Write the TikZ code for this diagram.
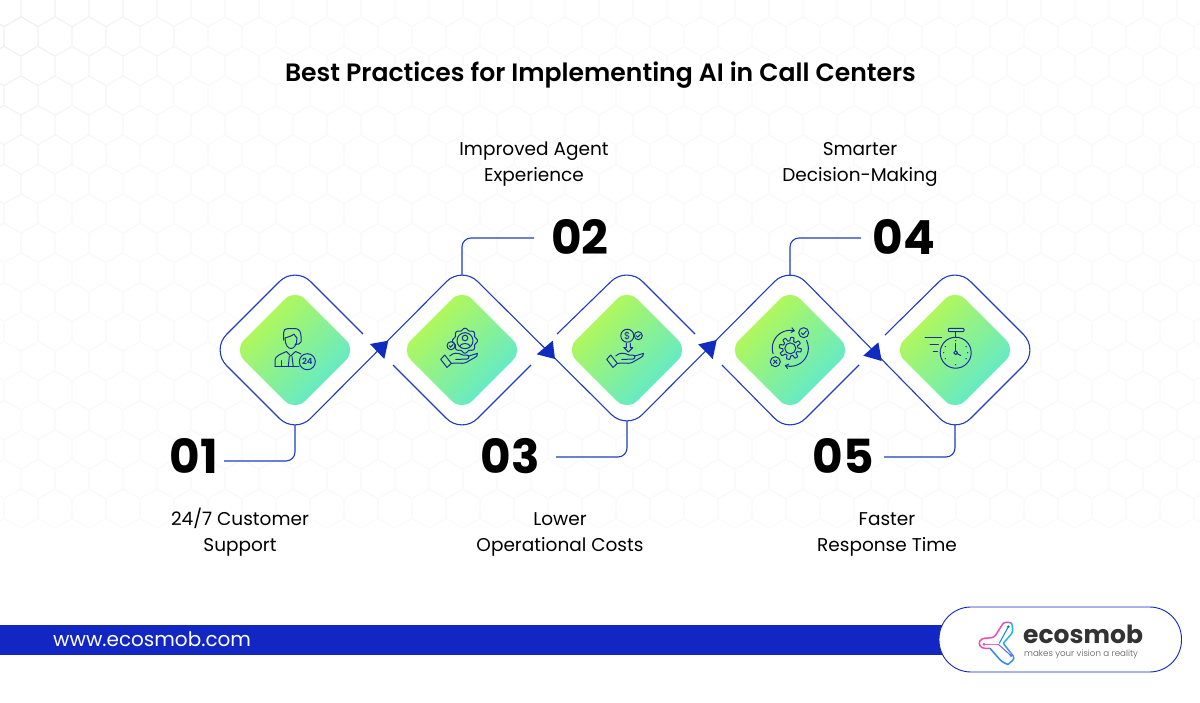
\documentclass[tikz,border=0pt]{standalone}
\usepackage{fontspec}
\setmainfont{Poppins}
\newfontfamily\semibold{Poppins SemiBold}
\newfontfamily\lightfont{Poppins Light}
\usetikzlibrary{arrows.meta,shapes.geometric}
\definecolor{ringblue}{HTML}{1F3CC4}
\definecolor{tipblue}{HTML}{102CC0}
\definecolor{barblue}{HTML}{1226C4}
\definecolor{iconblue}{HTML}{1B2E9C}
\definecolor{lime}{HTML}{BEFA48}
\definecolor{teal}{HTML}{58E8D8}
\definecolor{logodark}{HTML}{333333}
\tikzset{
	ringbox/.style={shape=diamond,aspect=1,inner sep=0,outer sep=0,minimum width=168,minimum height=168,fill=white,rounded corners=22},
	facebox/.style={shape=diamond,aspect=1,inner sep=0,outer sep=0,minimum width=122,minimum height=122,rounded corners=14,top color=lime,bottom color=teal,shading angle=45},
	ring/.style={draw=ringblue,line width=1.1pt,rounded corners=22},
	link/.style={draw=ringblue,line width=1.1pt,rounded corners=9},
	tipmark/.style={fill=tipblue},
	icon/.style={draw=iconblue,line width=1pt,line join=round,line cap=round},
	numlabel/.style={font=\bfseries\fontsize{47}{47}\selectfont,inner sep=0},
	textlabel/.style={font=\fontsize{18.5}{26}\selectfont,align=center,inner sep=0},
	handicon/.pic={
		\draw[icon] (-5,-2.3) -- (-1,-6.7) -- (5.7,1.7) -- (1.3,5.7) -- cycle;
		\draw[icon] (4,-5.7) .. controls (8,-9) and (11,-9.5) .. (17.3,-6.7) -- (21,-6.7) .. controls (24,-6.5) and (24,-3) .. (21,-2.6) -- (10,-2.3);
		\draw[icon] (22.5,-5.5) -- (31.7,-8.3) .. controls (32,-6) and (31,-5) .. (28.3,-3.7) -- (20,1) .. controls (16,2.5) and (11,0.5) .. (6,1.7);
	}
}
\begin{document}
\begin{tikzpicture}[x=1pt,y=-1pt]
	\useasboundingbox (0,0) rectangle (1200,702);
	\fill[white] (0,0) rectangle (1200,702);

	% honeycomb behind everything, fading away from the top left corner
	\foreach \row in {0,...,17}{
		\foreach \col in {-1,...,35}{
			\pgfmathsetmacro{\hx}{21+34*\col+17*mod(\row,2)-34*mod(\row,2)}
			\pgfmathsetmacro{\hy}{7+29.5*\row}
			\pgfmathsetmacro{\hval}{1.8+4.5*max(0,1-(\hx+\hy)/300)}
			\draw[draw=black!\hval,line width=0.8pt] (\hx,\hy-9.8) -- (\hx,\hy+9.8) -- (\hx+17,\hy+19.6) -- (\hx+34,\hy+9.8) -- (\hx+34,\hy-9.8) -- (\hx+17,\hy-19.6) -- cycle;
		}
	}

	\node[font=\semibold\fontsize{25.1}{28}\selectfont,inner sep=0] (title) at (600.5,75) {Best Practices for Implementing AI in Call Centers};

	% hidden boxes that carry the ring corners
	\node[ringbox] (d1) at (295,350) {};
	\node[ringbox] (d2) at (462,350) {};
	\node[ringbox,minimum width=164,minimum height=164] (d3) at (627,348) {};
	\node[ringbox] (d4) at (790,350) {};
	\node[ringbox] (d5) at (955,350) {};

	\node[facebox] (f1) at (295,350) {};
	\node[facebox] (f2) at (462,350) {};
	\node[facebox] (f3) at (627,350) {};
	\node[facebox] (f4) at (790,350) {};
	\node[facebox] (f5) at (955,350) {};

	% free ends of the ring pieces
	\coordinate (e1) at (363,334);
	\coordinate (e2a) at (393,365);
	\coordinate (e2b) at (531,365);
	\coordinate (e3a) at (557,334);
	\coordinate (e3b) at (695,334);
	\coordinate (e4a) at (722,365);
	\coordinate (e4b) at (859,365);
	\coordinate (e5) at (885,335);

	\draw[ring] (e1) -- (d1.north) -- (d1.west) -- (d1.south) -- (d2.north) -- (d3.south) -- (d4.north) -- (d5.south) -- (d5.east) -- (d5.north) -- (e5);
	\draw[ring] (e2a) -- (d2.south) -- (e2b);
	\draw[ring] (e3a) -- (d3.north) -- (e3b);
	\draw[ring] (e4a) -- (d4.south) -- (e4b);

	\fill[tipmark] (370,344) -- (388.3,340.7) -- (384.3,359) -- cycle;
	\fill[tipmark] (536.7,354.3) -- (552.7,340.7) -- (555,359) -- cycle;
	\fill[tipmark] (698.3,344.3) -- (716.7,340) -- (712.7,359) -- cycle;
	\fill[tipmark] (863.3,355.7) -- (878.3,342.3) -- (881.7,361) -- cycle;

	% numbers and their elbows
	\node[numlabel] (n1) at (194,456) {01};
	\node[numlabel] (n2) at (580,237) {02};
	\node[numlabel] (n3) at (510,456) {03};
	\node[numlabel] (n4) at (904,237) {04};
	\node[numlabel] (n5) at (843,456) {05};

	\coordinate (b1) at (295,425);
	\coordinate (b2) at (462,275);
	\coordinate (b3) at (627,421);
	\coordinate (b4) at (790,275);
	\coordinate (b5) at (955,425);
	\coordinate (c1) at (224,461);
	\coordinate (c2) at (534,238);
	\coordinate (c3) at (556,457);
	\coordinate (c4) at (861,238);
	\coordinate (c5) at (884,457);

	\draw[link] (b1) |- (c1);
	\draw[link] (b2) |- (c2);
	\draw[link] (b3) |- (c3);
	\draw[link] (b4) |- (c4);
	\draw[link] (b5) |- (c5);

	\node[textlabel] (t1) at (240,532) {24/7 Customer\\Support};
	\node[textlabel] (t2) at (534,164) {Improved Agent\\Experience};
	\node[textlabel] (t3) at (560,534) {Lower\\Operational Costs};
	\node[textlabel] (t4) at (860,164) {Smarter\\Decision-Making};
	\node[textlabel] (t5) at (887,534) {Faster\\Response Time};

	% icon 1, agent
	\draw[icon] (285,338) .. controls (285,345) and (288,348.5) .. (291,348.5) .. controls (294,348.5) and (297,345) .. (297,338);
	\draw[icon] (285,338) .. controls (288,337) and (292,336) .. (294,334) .. controls (295,336) and (296,337) .. (297,338);
	\draw[icon] (283.5,340) -- (283.5,333) .. controls (283.5,330) and (285,328.5) .. (288,328.5) -- (295,328.5) .. controls (299,328.5) and (301,332) .. (301,336) -- (301,342) .. controls (300,344) and (298,344.5) .. (295,344.5);
	\draw[icon] (275,366.7) -- (275,360) .. controls (275,356) and (281,354) .. (286.5,351.5) -- (290.7,356) -- (295.5,351.5) .. controls (297,352) and (299,353) .. (301,354);
	\draw[icon] (275,366.7) -- (299,366.7);
	\draw[icon] (289.3,356.5) -- (288.3,366.7);
	\draw[icon] (292,356.5) -- (293.3,366.7);
	\draw[icon] (281,360.5) -- (281,366.7);
	\node[circle,draw=iconblue,line width=1pt,minimum size=16,inner sep=0,font=\semibold\fontsize{8.5}{8.5}\selectfont,text=iconblue] (badge) at (307.3,361.7) {24};

	% icon 2, hand with badge
	\pic at (445.7,361.7) {handicon};
	\draw[icon] plot[domain=0:360,samples=73,smooth] ({465+(11.5+1*cos(8*\x))*cos(\x)},{340.7+(11.5+1*cos(8*\x))*sin(\x)});
	\draw[icon] (465,340.7) circle (8);
	\draw[icon] (465,338) circle (2.8);
	\draw[icon] (459.7,346.5) .. controls (460.5,342.5) and (469.5,342.5) .. (470.3,346.5);
	\draw[icon] (451,345.7) circle (4);
	\draw[icon] (449.2,345.7) -- (450.6,347.2) -- (453,344.5);

	% icon 3, hand with coin
	\pic at (611.7,361.7) {handicon};
	\node[circle,draw=iconblue,line width=1pt,minimum size=13,inner sep=0,font=\fontsize{10}{10}\selectfont,text=iconblue] (coin) at (627.3,335.7) {\$};
	\draw[icon] (638.3,335.7) circle (4);
	\draw[icon] (636.3,335.7) -- (637.8,337.2) -- (640.3,334.5);
	\draw[icon] (626.3,343.3) -- (626.3,347.5) -- (623.8,347.5) -- (628.3,352) -- (632.8,347.5) -- (630.3,347.5) -- (630.3,343.3);

	% icon 4, gear with two arrows
	\draw[icon] plot[domain=0:360,samples=145] ({790.3+(9.3+1.8*max(-1,min(1,2.5*sin(8*\x))))*cos(\x)},{348.3+(9.3+1.8*max(-1,min(1,2.5*sin(8*\x))))*sin(\x)});
	\draw[icon] (790.3,348.3) circle (5.5);
	\draw[icon,-{Straight Barb[length=3pt,width=5pt]}] plot[domain=163:285,samples=25] ({790.3+18*cos(\x)},{348.3+18*sin(\x)});
	\draw[icon,-{Straight Barb[length=3pt,width=5pt]}] plot[domain=-26:108,samples=25] ({790.3+18*cos(\x)},{348.3+18*sin(\x)});
	\draw[icon] (803.7,332.7) circle (5);
	\draw[icon] (801.2,332.7) -- (803.1,334.7) -- (806.3,331);
	\draw[icon] (775.3,361.7) circle (5);
	\draw[icon] (773.5,359.9) -- (777.1,363.5);
	\draw[icon] (777.1,359.9) -- (773.5,363.5);

	% icon 5, stopwatch
	\draw[icon] (955.7,352.7) circle (15.5);
	\draw[icon,rounded corners=1] (948.3,328.3) rectangle (964,331.7);
	\draw[icon] (955.7,331.7) -- (955.7,337.2);
	\draw[icon] (955.7,343.3) -- (955.7,350.7);
	\draw[icon] (957.4,353.7) -- (960.7,355.5);
	\draw[icon] (955.7,352.7) circle (1.9);
	\draw[icon] (925,337.7) -- (941.7,337.7);
	\draw[icon] (930,344.7) -- (938.3,344.7);
	\draw[icon] (933.3,351.7) -- (937.7,351.7);
	\foreach \a in {30,90,150,210,270,330,0,180}{
		\fill[iconblue] ({955.7+12*cos(\a)},{352.7+12*sin(\a)}) circle (0.7);
	}

	% footer
	\fill[barblue] (0,625) rectangle (945,654.5);
	\node[anchor=west,inner sep=0,text=white,font=\fontsize{20}{20}\selectfont] (web) at (53,639.5) {www.ecosmob.com};
	\draw[fill=white,draw=barblue,line width=0.9pt,rounded corners=32] (939,607) rectangle (1181.5,672);

	% logo
	\draw[line width=1.5pt,draw=magenta!70!white,rounded corners=3,line cap=round] (1003,623.5) -- (994,637.7) -- (981.7,638.3) -- (978.3,643.3) -- (981.7,648.3) -- (990,648.3);
	\draw[line width=1.5pt,draw=blue!60!cyan!80!white,rounded corners=3] (990,648.3) -- (1001.7,661.7) -- (1008,664.5);
	\draw[line width=1.5pt,draw=cyan!70!blue!80!white,rounded corners=3] (1008,664.5) -- (1015,658.3) -- (1003.3,643.3);
	\draw[line width=1.5pt,draw=cyan!70!teal,rounded corners=3] (1003.3,643.3) -- (1013.3,631.7) -- (1011.7,623.3);
	\draw[line width=1.5pt,draw=violet!60!white,rounded corners=3] (1011.7,623.3) -- (1007,621.5) -- (1003,623.5);
	\draw[line width=1pt,draw=magenta!60!white] (984,644.3) -- (998.3,644.3);
	\draw[line width=1pt,draw=blue!60!white] (998.3,644.3) -- (1011,655.7);
	\draw[line width=1pt,draw=cyan!70!blue] (1008.3,626.7) -- (999.3,643.3);
	\fill[magenta!70!white] (984,644.3) circle (1.5);
	\fill[blue!60!white] (1011,655.7) circle (1.5);
	\fill[cyan!70!blue] (1008.3,626.7) circle (1.5);
	\node[anchor=west,inner sep=0,text=logodark,font=\bfseries\fontsize{25}{25}\selectfont] (brand) at (1023,634) {ecosmob};
	\node[anchor=west,inner sep=0,text=black!65,font=\lightfont\fontsize{8.7}{9}\selectfont] (motto) at (1024,654) {makes your vision a reality};
\end{tikzpicture}
\end{document}
